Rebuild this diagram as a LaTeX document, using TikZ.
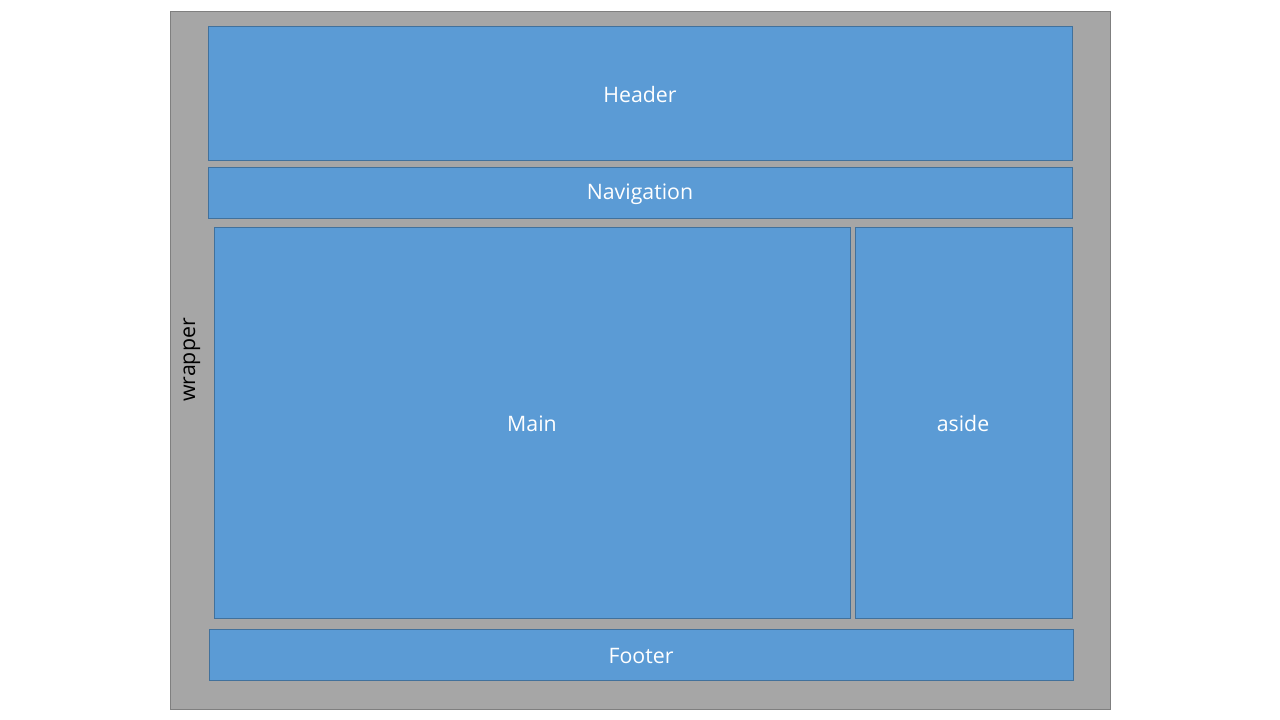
\documentclass[tikz,border=0pt]{standalone}
\usepackage{fontspec}
\setmainfont{Open Sans}
\definecolor{wrapfill}{HTML}{A6A6A6}
\definecolor{wrapline}{HTML}{7F7F7F}
\definecolor{boxfill}{HTML}{5B9BD5}
\definecolor{boxline}{HTML}{41719C}
\begin{document}
\begin{tikzpicture}[x=1pt,y=-1pt,
  wrapbox/.style={draw=wrapline,fill=wrapfill,line width=1pt},
  blockbox/.style={draw=boxline,fill=boxfill,line width=0.8pt},
  lbl/.style={text=white,font=\fontsize{21.3}{25}\selectfont},
  wlbl/.style={text=black,font=\fontsize{21.3}{25}\selectfont,rotate=90}]
\useasboundingbox (0,0) rectangle (1280,720);
\draw[wrapbox] (170,11) rectangle (1110,709);
\draw[blockbox] (208,26) rectangle (1072,160);
\draw[blockbox] (208,167) rectangle (1072,218);
\draw[blockbox] (214,227) rectangle (850,618);
\draw[blockbox] (855,227) rectangle (1072,618);
\draw[blockbox] (209,629) rectangle (1073,680);
\node[lbl] (header) at (640,94.5) {Header};
\node[lbl] (nav) at (640,194) {Navigation};
\node[lbl] (main) at (532,424) {Main};
\node[lbl] (aside) at (963,424) {aside};
\node[lbl] (footer) at (641,656) {Footer};
\node[wlbl] (wrapper) at (192,360) {wrapper};
\end{tikzpicture}
\end{document}
